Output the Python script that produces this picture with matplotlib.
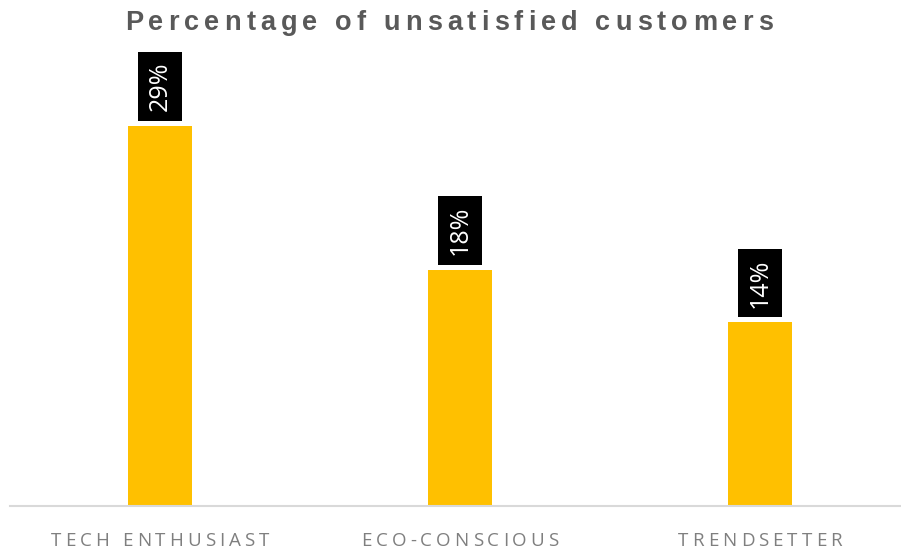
import matplotlib
matplotlib.use('Agg')
import matplotlib.pyplot as plt
from matplotlib.font_manager import FontProperties

categories = ['TECH ENTHUSIAST', 'ECO-CONSCIOUS', 'TRENDSETTER']
values = [0.29, 0.18, 0.14]
value_labels = ['29%', '18%', '14%']
title = 'Percentage of unsatisfied customers'

W, H = 901, 549
fig = plt.figure(figsize=(W / 100, H / 100), dpi=100)
ax = fig.add_axes([10 / W, 43 / H, 900 / W, (506 - 47) / H])

x = range(len(categories))
bars = ax.bar(x, values, width=0.213, color='#FFC000', zorder=2)
ax.set_xlim(-0.5, 2.5)
ax.set_ylim(0, 0.35)
for s in ['top', 'right', 'left']:
    ax.spines[s].set_visible(False)
ax.spines['bottom'].set_color('#D9D9D9')
ax.spines['bottom'].set_linewidth(1.5)
ax.set_xticks([]); ax.set_yticks([])

# value labels, rotated, white on black box
for b, lab in zip(bars, value_labels):
    ax.annotate(lab, (b.get_x() + b.get_width() / 2, b.get_height()),
                xytext=(0, 10.5), textcoords='offset points',
                rotation=90, ha='center', va='bottom', color='white',
                fontsize=18, family=['Open Sans', 'DejaVu Sans'],
                bbox=dict(boxstyle='square,pad=0.38', fc='black', ec='none'))

fig.canvas.draw()
renderer = fig.canvas.get_renderer()


def char_width(c, prop):
    w1, _, _ = renderer.get_text_width_height_descent('|' + c + '|', prop, ismath=False)
    w0, _, _ = renderer.get_text_width_height_descent('||', prop, ismath=False)
    return w1 - w0


def spaced_text(cx, y, s, prop, spacing, color):
    # draw text with letter spacing, cx/y in pixels from bottom-left
    widths = [char_width(c, prop) for c in s]
    total = sum(widths) + spacing * (len(s) - 1)
    xx = cx - total / 2
    for c, w in zip(s, widths):
        fig.text(xx / W, y / H, c, fontproperties=prop, color=color,
                 ha='left', va='baseline')
        xx += w + spacing


title_prop = FontProperties(family='Liberation Sans', weight='bold', size=19.5)
spaced_text(449, H - 30, title, title_prop, 5.1, '#595959')

label_prop = FontProperties(family='Open Sans', size=13.5)
for i, cat in enumerate(categories):
    cx = ax.transData.transform((i, 0))[0]
    spaced_text(cx, H - 546, cat, label_prop, 4.0, '#7F7F7F')

fig.savefig('out.png', dpi=100)
